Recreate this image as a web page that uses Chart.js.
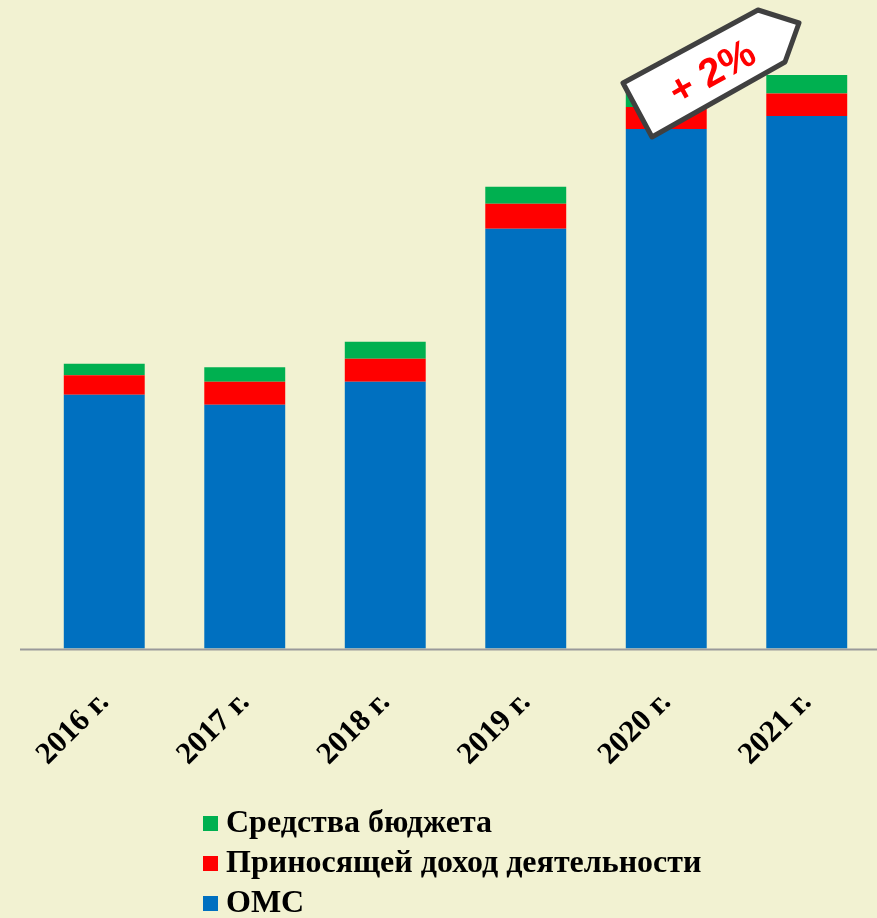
<!DOCTYPE html>
<html>
<head>
<meta charset="utf-8">
<script src="https://cdn.jsdelivr.net/npm/chart.js@4"></script>
<style>
  html, body { margin: 0; padding: 0; background: #F2F2D2; }
  #wrap { position: relative; width: 877px; height: 918px; }
  #legend { position: absolute; left: 203px; top: 801px; font: bold 32px "Liberation Serif", serif; color: #000; }
  #legend div { height: 40px; line-height: 40px; white-space: nowrap; }
  #legend span { display: inline-block; width: 15px; height: 15px; margin-right: 8px; vertical-align: 1px; }
</style>
</head>
<body>
<div id="wrap">
  <canvas id="myChart" width="877" height="918"></canvas>
  <div id="legend"></div>
</div>
<script>
var labels = ['2016 г.', '2017 г.', '2018 г.', '2019 г.', '2020 г.', '2021 г.'];
var oms = [254, 244, 267, 420, 520, 533];
var income = [19.5, 23, 23, 25, 22, 22.5];
var budget = [11.5, 14.5, 17, 17, 18, 18.5];
var tagText = '+ 2%';

const data = {
    labels: labels,
    datasets: [{
        label: 'ОМС',
        backgroundColor: '#0070C0',
        data: oms
    }, {
        label: 'Приносящей доход деятельности',
        backgroundColor: '#FF0000',
        data: income
    }, {
        label: 'Средства бюджета',
        backgroundColor: '#00B050',
        data: budget
    }]
};

// baseline line and the "+2%" tag
const extras = {
    id: 'extras',
    beforeDatasetsDraw(chart) {
        const ctx = chart.ctx;
        const y0 = chart.scales.y.getPixelForValue(0);
        ctx.save();
        ctx.strokeStyle = '#9A9A9A';
        ctx.lineWidth = 2;
        ctx.beginPath();
        ctx.moveTo(20, y0 + 1);
        ctx.lineTo(chart.width, y0 + 1);
        ctx.stroke();
        ctx.restore();
    },
    afterDraw(chart) {
        const ctx = chart.ctx;
        ctx.save();
        ctx.beginPath();
        ctx.moveTo(623, 83);
        ctx.lineTo(758, 10);
        ctx.lineTo(799, 23);
        ctx.lineTo(785, 62);
        ctx.lineTo(652, 137);
        ctx.closePath();
        ctx.fillStyle = '#FFFFFF';
        ctx.fill();
        ctx.lineWidth = 5;
        ctx.lineJoin = 'round';
        ctx.strokeStyle = '#404040';
        ctx.stroke();
        ctx.translate(712, 72);
        ctx.rotate(-29 * Math.PI / 180);
        ctx.fillStyle = '#FF0000';
        ctx.font = 'bold 40px "Liberation Sans", Arial, sans-serif';
        ctx.textAlign = 'center';
        ctx.textBaseline = 'middle';
        ctx.fillText(tagText, 0, 2);
        ctx.restore();
    }
};

const config = {
    type: 'bar',
    data: data,
    options: {
        responsive: false,
        animation: false,
        layout: { padding: { top: 49, left: 34, right: 0, bottom: 117 } },
        plugins: {
            legend: { display: false },
            tooltip: { enabled: false }
        },
        datasets: {
            bar: { categoryPercentage: 1, barPercentage: 0.576, borderWidth: 0 }
        },
        scales: {
            x: {
                stacked: true,
                grid: { display: false },
                border: { display: false },
                ticks: {
                    color: '#000',
                    font: { family: '"Liberation Serif", serif', size: 31, weight: 'bold' },
                    minRotation: 45,
                    maxRotation: 45,
                    padding: 28
                }
            },
            y: {
                stacked: true,
                display: false,
                min: 0,
                max: 600
            }
        }
    },
    plugins: [extras]
};

const myChart = new Chart(document.getElementById('myChart'), config);

// legend, top entry first
var legendEl = document.getElementById('legend');
data.datasets.slice().reverse().forEach(function (ds) {
    var row = document.createElement('div');
    var box = document.createElement('span');
    box.style.background = ds.backgroundColor;
    row.appendChild(box);
    row.appendChild(document.createTextNode(ds.label));
    legendEl.appendChild(row);
});
</script>
</body>
</html>
